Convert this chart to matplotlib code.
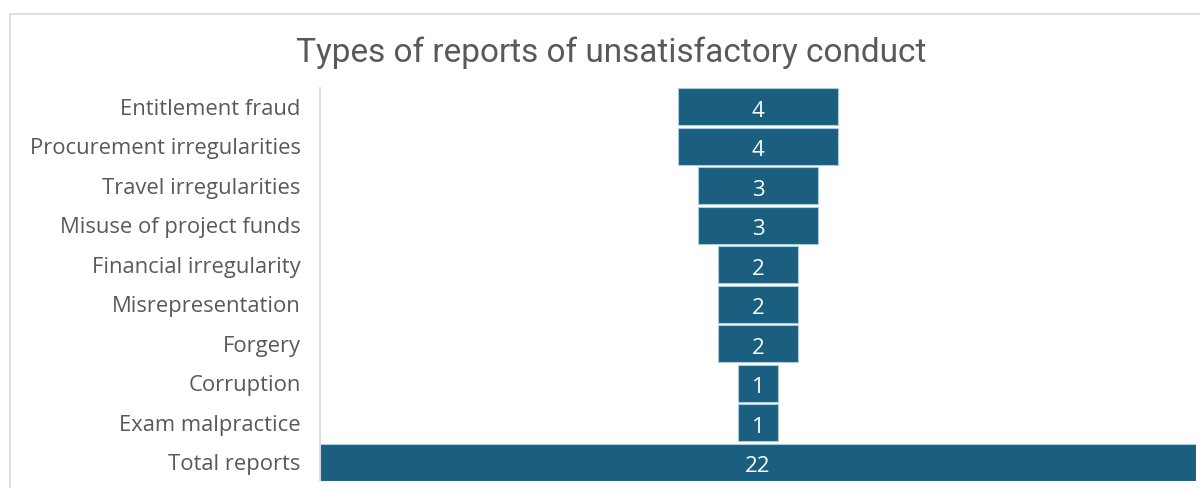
import matplotlib.pyplot as plt
from matplotlib.patches import Rectangle

categories = ['Entitlement fraud', 'Procurement irregularities', 'Travel irregularities',
              'Misuse of project funds', 'Financial irregularity', 'Misrepresentation',
              'Forgery', 'Corruption', 'Exam malpractice', 'Total reports']
counts = [4, 4, 3, 3, 2, 2, 2, 1, 1, 22]

bar_color = '#1a5f80'
text_gray = '#595959'

fig = plt.figure(figsize=(12, 4.88), dpi=100)

# chart border (cut off on the right and bottom)
fig.patches.append(Rectangle((10 / 1200, -0.1), 1.1, (488 - 14) / 488 + 0.1,
                             transform=fig.transFigure, fill=False,
                             edgecolor='#d9d9d9', linewidth=1.2))

ax = fig.add_axes([320 / 1200, (488 - 481) / 488, 876 / 1200, (481 - 88) / 488])

y = list(range(len(categories)))
lefts = [-c / 2 for c in counts]
ax.barh(y, counts, left=lefts, height=0.94, color=bar_color,
        edgecolor='#a9cbdc', linewidth=0.8)

for yi, c in zip(y, counts):
    ax.text(0, yi + 0.05, str(c), ha='center', va='center_baseline', color='white',
            fontsize=16, family='Open Sans')

ax.set_xlim(-11, 11)
ax.set_ylim(9.48, -0.48)
ax.set_yticks(y)
ax.set_yticklabels(categories, fontsize=15.8, color=text_gray, family='Open Sans')
ax.tick_params(axis='y', length=0, pad=14)
ax.set_xticks([])
for s in ['top', 'right', 'bottom']:
    ax.spines[s].set_visible(False)
ax.spines['left'].set_color('#d9d9d9')
ax.spines['left'].set_linewidth(1.2)

fig.text(611 / 1200, 1 - 53 / 488, 'Types of reports of unsatisfactory conduct',
         ha='center', va='center', fontsize=24, color=text_gray, family='Roboto')

fig.savefig('out.png', dpi=100)
